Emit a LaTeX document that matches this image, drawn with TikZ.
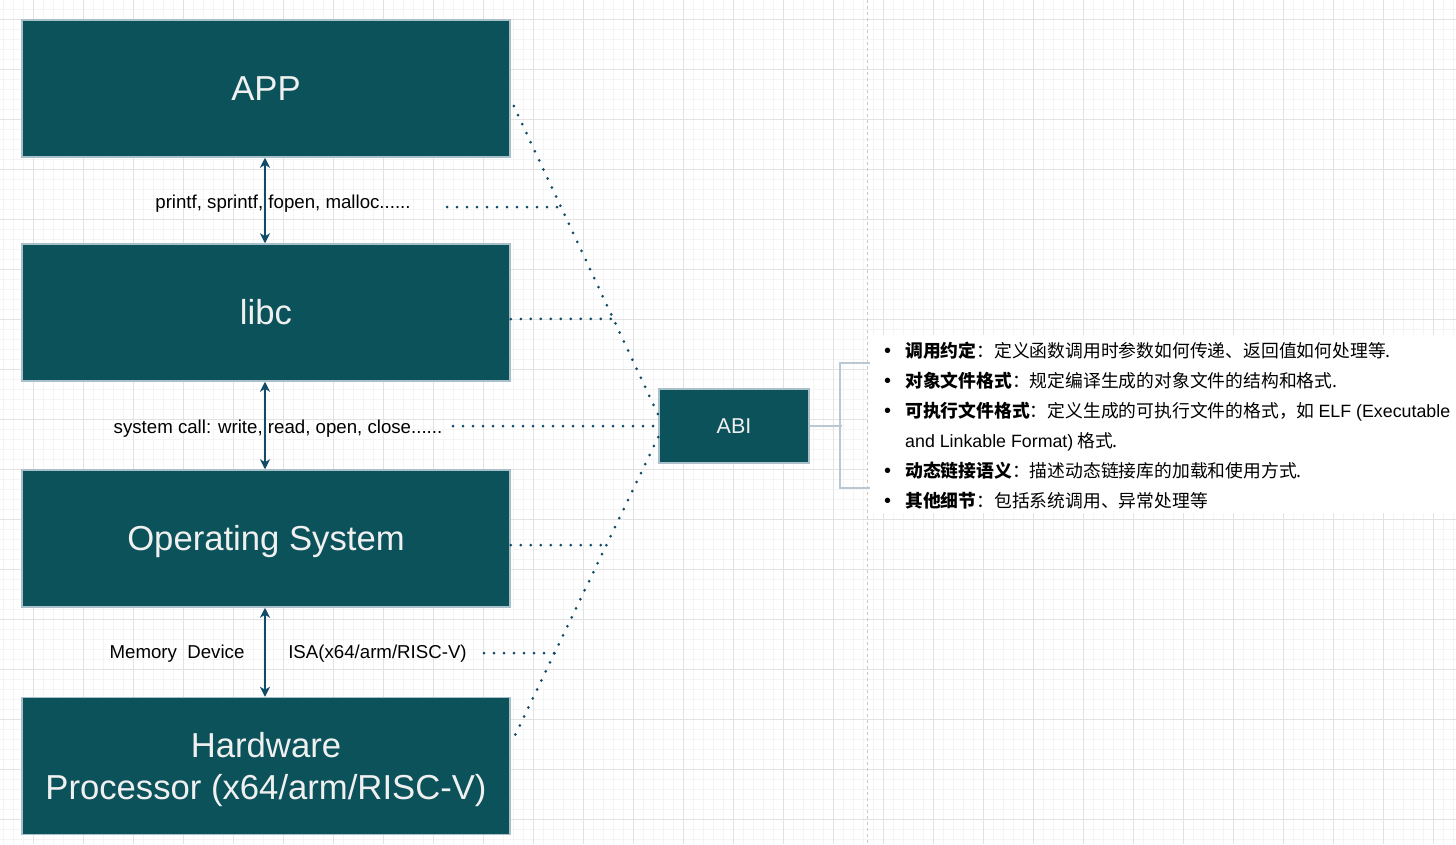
\documentclass[tikz,border=0pt]{standalone}
\usepackage{fontspec}
\setmainfont{Liberation Sans}
\newfontfamily\cjk{Noto Sans CJK SC}
\usepackage{tikz}
\usetikzlibrary{arrows.meta,positioning,calc}
\usepackage{xcolor}
\definecolor{abiteal}{RGB}{11,82,91}
\definecolor{abiedge}{RGB}{169,191,201}
\definecolor{abitext}{RGB}{240,240,240}
\definecolor{abiblue}{RGB}{16,76,104}
\definecolor{abibracket}{RGB}{186,200,211}
\definecolor{gridlight}{RGB}{244,244,244}
\definecolor{griddark}{RGB}{226,226,226}
\definecolor{pagegray}{RGB}{200,200,200}
\tikzstyle{layer} = [draw=abiedge, line width=1.5pt, fill=abiteal, text=abitext, minimum width=488pt, minimum height=137pt, inner sep=0pt, font=\fontsize{34.67}{42}\selectfont]
\tikzstyle{oneline} = [text height=24pt, text depth=0pt]
\tikzstyle{abibox} = [draw=abiedge, line width=1.5pt, fill=abiteal, text=abitext, minimum width=150pt, minimum height=74pt, inner sep=0pt, text height=15.5pt, text depth=0pt, font=\fontsize{21.5}{26}\selectfont]
\tikzstyle{biarrow} = [line width=1.4pt, abiblue, {Stealth[length=10pt,width=10pt,inset=3pt]}-{Stealth[length=10pt,width=10pt,inset=3pt]}]
\tikzstyle{dotline} = [line width=3pt, abiblue, line cap=round, dash pattern=on 0pt off 10pt]
\tikzstyle{callout} = [anchor=base, inner sep=0pt, font=\fontsize{18.67}{22}\selectfont]
\tikzstyle{bracket} = [line width=2pt, abibracket]
\newcommand{\abibullet}{\makebox[21pt][l]{\rmfamily\fontsize{20}{30}\selectfont •}}

\begin{document}
\begin{tikzpicture}[x=1pt, y=-1pt]
\useasboundingbox (0,0) rectangle (1456,844);

% Background grid
\foreach \x in {3,13,...,1456} \draw[gridlight, line width=1pt] (\x,0) -- (\x,844);
\foreach \y in {9,19,...,844} \draw[gridlight, line width=1pt] (0,\y) -- (1456,\y);
\foreach \x in {33,83,...,1456} \draw[griddark, line width=1pt] (\x,0) -- (\x,844);
\foreach \y in {19,69,...,844} \draw[griddark, line width=1pt] (0,\y) -- (1456,\y);

% Page break
\draw[pagegray, line width=1pt, dash pattern=on 3pt off 3pt] (867,0) -- (867,844);

% Layers
\node[layer, oneline] (app) at (266,88.5) {APP};
\node[layer, oneline] (libc) at (266,312.5) {libc};
\node[layer, oneline] (os) at (266,538.5) {Operating System};
\node[layer] (hw) at (266,766) {};
\node[text=abitext, align=center, inner sep=0pt, font=\fontsize{34.67}{42}\selectfont] (hwtext) at (266,770) {Hardware\\Processor (x64/arm/RISC-V)};

% ABI box
\node[abibox] (abi) at (734,426) {ABI};

% Dotted links to ABI
\coordinate (up1) at ([xshift=3pt, yshift=-17.5pt]app.east);
\coordinate (up2) at ([yshift=11pt]abi.west);
\coordinate (lo1) at ([yshift=-11pt]abi.west);
\coordinate (lo2) at ([xshift=3pt, yshift=28pt]hw.east);
\coordinate (j1) at ($(up1)!0.327!(up2)$);
\coordinate (j2) at ($(up1)!0.689!(up2)$);
\coordinate (j3) at ($(lo1)!0.359!(lo2)$);
\coordinate (j4) at ($(lo1)!0.718!(lo2)$);
\coordinate (s1) at (447,207);
\coordinate (s2) at (453,426);
\coordinate (s3) at (484,653);
\draw[dotline] (up1) -- (up2);
\draw[dotline] (lo1) -- (lo2);
\draw[dotline] (s1) -- (j1);
\draw[dotline] ([yshift=-6.5pt]libc.east) -- (j2);
\draw[dotline] (s2) -- (abi.west);
\draw[dotline] ([yshift=-6.5pt]os.east) -- (j3);
\draw[dotline] (s3) -- (j4);

% Calls between layers
\draw[biarrow] ([xshift=-1pt]app.south) -- ([xshift=-1pt]libc.north);
\draw[biarrow] ([xshift=-1pt]libc.south) -- ([xshift=-1pt]os.north);
\draw[biarrow] ([xshift=-1pt]os.south) -- ([xshift=-1pt]hw.north);

% Labels
\node[callout] (lblcall) at (283,208) {printf, sprintf, fopen, malloc......};
\node[callout] (lblsys) at (278,433) {system call: write, read, open, close......};
\node[callout] (lblmem) at (177,658) {Memory\ \ Device};
\node[callout] (lblisa) at (377.5,658) {ISA(x64/arm/RISC-V)};

% Notes on ABI
\fill[white] (868,335) rectangle (1456,513);
\coordinate (brtop) at (870,363);
\coordinate (brbot) at (870,488);
\draw[bracket] (abi.east) -- ++(32,0);
\draw[bracket] (brtop) -- ++(-30,0) |- (brbot);
\node[anchor=base west, inner sep=0pt, font=\cjk\fontsize{17.8}{30}\selectfont] (notes) at (884,357) {%
\begin{minipage}[t]{600pt}\baselineskip=30pt
\abibullet\textbf{调用约定}：定义函数调用时参数如何传递、返回值如何处理等.\\
\abibullet\textbf{对象文件格式}：规定编译生成的对象文件的结构和格式.\\
\abibullet\textbf{可执行文件格式}：定义生成的可执行文件的格式，如 {\rmfamily ELF (Executable}\\
\hspace*{21pt}{\rmfamily and Linkable Format)} 格式.\\
\abibullet\textbf{动态链接语义}：描述动态链接库的加载和使用方式.\\
\abibullet\textbf{其他细节}：包括系统调用、异常处理等
\end{minipage}};
\end{tikzpicture}
\end{document}
